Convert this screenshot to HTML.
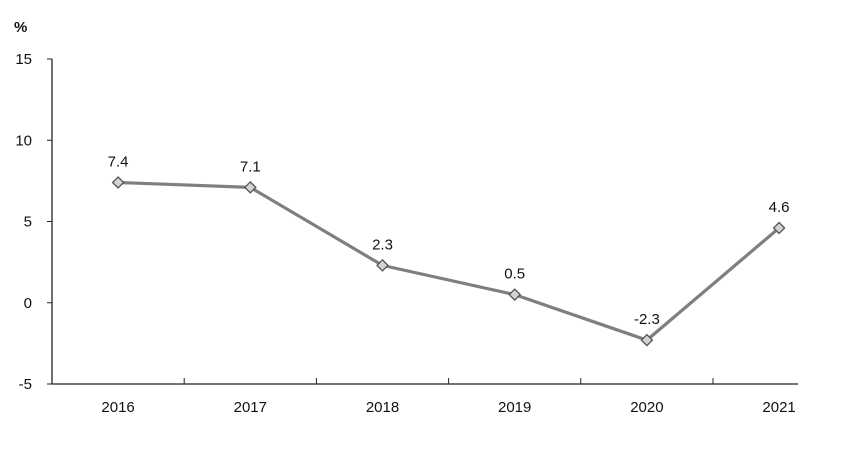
<!DOCTYPE html>
<html><head><meta charset="utf-8"><style>
html,body{margin:0;padding:0;background:#fff;}
svg{display:block;font-family:"Liberation Sans",Arial,sans-serif;}
</style></head><body>
<svg id="chart" width="848" height="449" viewBox="0 0 848 449" xmlns="http://www.w3.org/2000/svg">
<text x="14" y="32" font-size="15" font-weight="bold" fill="#111">%</text>
<g id="axes"></g><g id="series"></g>
</svg>
<script>
const categories = ["2016","2017","2018","2019","2020","2021"];
const values = [7.4, 7.1, 2.3, 0.5, -2.3, 4.6];
const valueLabels = ["7.4","7.1","2.3","0.5","-2.3","4.6"];
const yTicks = [15, 10, 5, 0, -5];
const yTickLabels = ["15","10","5","0","-5"];

const NS = "http://www.w3.org/2000/svg";
const x0 = 52, band = 132.2, yMin = -5, yMax = 15, yTop = 59, yBot = 384, xEnd = 798;
function y(v){ return yBot - (v - yMin) / (yMax - yMin) * (yBot - yTop); }
function xc(i){ return x0 + band * (i + 0.5); }
function mk(tag, attrs, parent){ const e = document.createElementNS(NS, tag); for (const k in attrs) e.setAttribute(k, attrs[k]); parent.appendChild(e); return e; }
const axes = document.getElementById("axes"), series = document.getElementById("series");

const ya = mk("line", {x1:x0, y1:yTop, x2:x0, y2:yBot, stroke:"#222", "stroke-width":1.3}, axes);


const xa = mk("line", {x1:x0, y1:yBot, x2:xEnd, y2:yBot, stroke:"#222", "stroke-width":1.3}, axes);



yTicks.forEach((t, i) => {
  mk("line", {x1:x0-5, y1:y(t), x2:x0, y2:y(t), stroke:"#222", "stroke-width":1}, axes);
  const tx = mk("text", {x:32, y:y(t)+5, "font-size":15, "text-anchor":"end", fill:"#111"}, axes);
  tx.textContent = yTickLabels[i];
  
  
});
categories.forEach((c, i) => {
  if (i > 0) mk("line", {x1:x0+band*i, y1:yBot-6, x2:x0+band*i, y2:yBot, stroke:"#222", "stroke-width":1}, axes);
  const tx = mk("text", {x:xc(i), y:412, "font-size":15, "text-anchor":"middle", fill:"#111"}, axes);
  tx.textContent = c;
  
  
});

const pts = values.map((v, i) => xc(i) + "," + y(v)).join(" ");
const line = mk("polyline", {points:pts, fill:"none", stroke:"#7f7f7f", "stroke-width":3.2, "stroke-linejoin":"round"}, series);


values.forEach((v, i) => {
  const cx = xc(i), cy = y(v), r = 5.5;
  const d = mk("polygon", {points:`${cx},${cy-r} ${cx+r},${cy} ${cx},${cy+r} ${cx-r},${cy}`, fill:"#d4d4d4", stroke:"#555", "stroke-width":1.3}, series);
  
  
  const t = mk("text", {x:cx, y:cy-16, "font-size":15, "text-anchor":"middle", fill:"#111"}, series);
  t.textContent = valueLabels[i];
  
  
});
</script>
</body></html>
